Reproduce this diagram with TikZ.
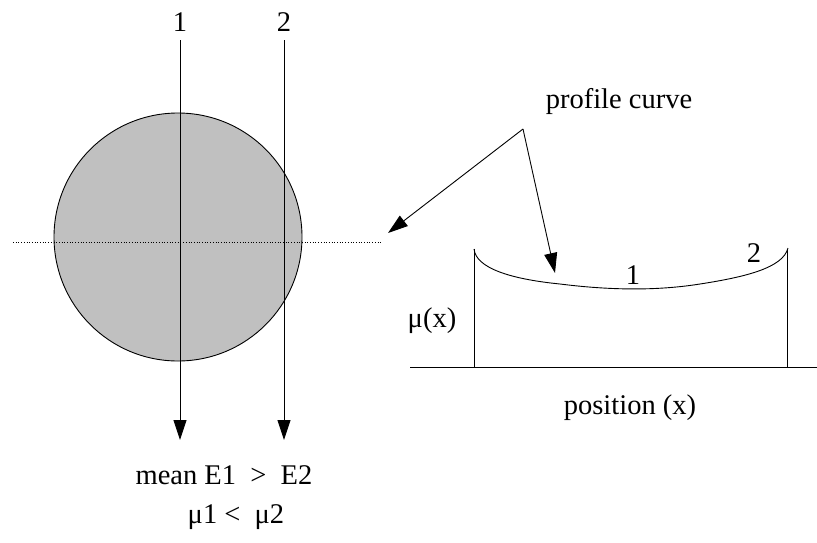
\documentclass[tikz,border=0pt]{standalone}
\usepackage{fontspec}
\setmainfont{Liberation Serif}
\usetikzlibrary{arrows.meta}
\begin{document}
\begin{tikzpicture}[x=1pt,y=-1pt,
  lbl/.style={inner sep=0pt,font=\fontsize{28.5}{32}\selectfont},
  ray/.style={line width=0.9pt,-{Triangle[length=20pt,width=13pt]}},
  pointer/.style={line width=0.9pt,-{Triangle[length=20pt,width=13pt]}},
  thin/.style={line width=0.9pt}]
\useasboundingbox (0,0) rectangle (817,542);
% circle
\node[circle,draw,line width=0.9pt,fill={rgb,255:red,192;green,192;blue,192},minimum size=248pt,inner sep=0pt] (disc) at (178,237) {};
\draw[dotted,line width=0.7pt] (13,242) -- (382,242);
% rays
\node[lbl] (n1) at (180,22) {1};
\node[lbl] (n2) at (284,22) {2};
\coordinate (r1s) at (180,40);
\coordinate (r1e) at (180,440);
\coordinate (r2s) at (284,40);
\coordinate (r2e) at (284,440);
\draw[ray] (r1s) -- (r1e);
\draw[ray] (r2s) -- (r2e);
\node[lbl] (m1) at (224,475) {mean E1 \ > \ E2};
\node[lbl] (m2) at (236,517) {μ1 <\ \ μ2};
% profile
\node[lbl] (pc) at (619,101) {profile curve};
\coordinate (apex) at (523,129);
\coordinate (tipL) at (388,233);
\coordinate (tipC) at (555,273);
\draw[pointer] (apex) -- (tipL);
\draw[pointer] (apex) -- (tipC);
% axes
\coordinate (axL) at (410,367);
\coordinate (axR) at (817,367);
\draw[thin] (axL) -- (axR);
\coordinate (vl) at (474,367);
\coordinate (vlt) at (474,249);
\coordinate (vr) at (787,367);
\coordinate (vrt) at (787,249);
\draw[thin] (vl) -- (vlt);
\draw[thin] (vr) -- (vrt);
\draw[thin] (vlt) .. controls (476,268) and (510,279) .. (560,284)
  .. controls (600,289) and (650,292) .. (700,284)
  .. controls (745,277) and (783,268) .. (788,248);
\node[lbl] (p1) at (633,275) {1};
\node[lbl] (p2) at (754,253) {2};
\node[lbl] (mu) at (432,321) {μ(x)};
\node[lbl] (pos) at (630,408) {position (x)};
\end{tikzpicture}
\end{document}
